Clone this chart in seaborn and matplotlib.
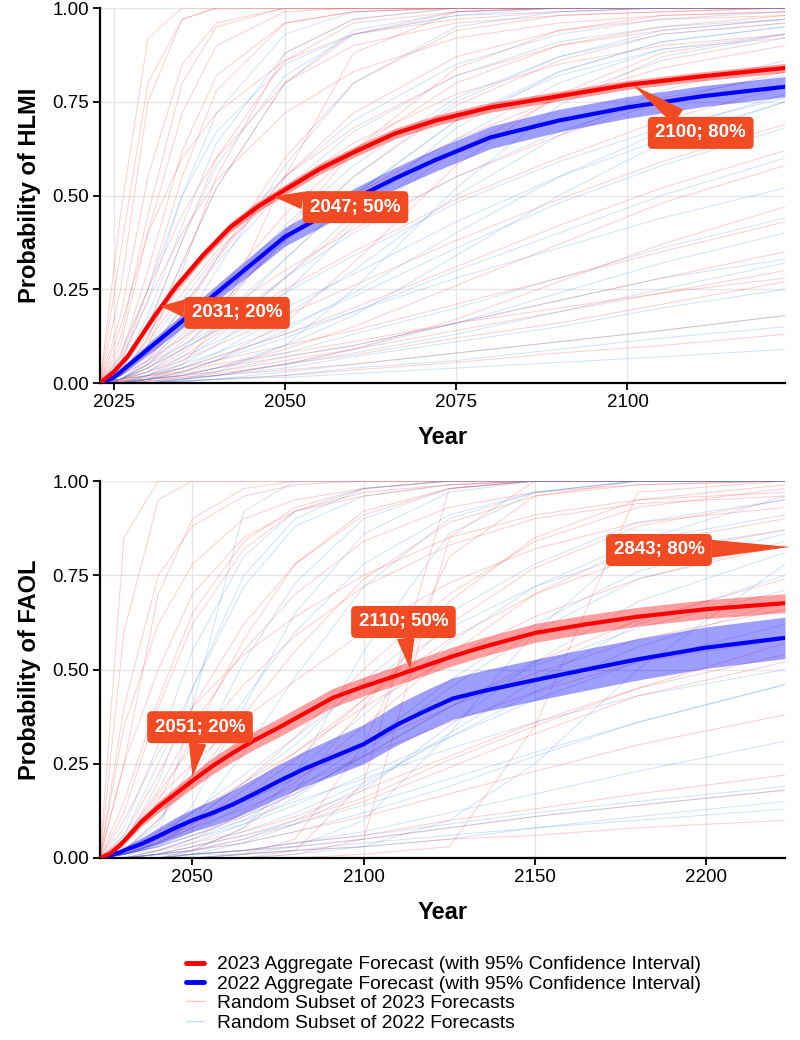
import matplotlib
matplotlib.use("Agg")
import matplotlib.pyplot as plt
from matplotlib.lines import Line2D
import seaborn as sns
import pandas as pd

# ---- aggregate forecasts ----
hlmi_years = [2023, 2025, 2027, 2029, 2031, 2034, 2038, 2042, 2046, 2050,
              2055, 2060, 2066, 2072, 2080, 2090, 2100, 2111, 2123]
hlmi_2023 = [0, 0.03, 0.07, 0.125, 0.18, 0.255, 0.34, 0.415, 0.47, 0.515,
             0.57, 0.615, 0.665, 0.70, 0.735, 0.765, 0.795, 0.818, 0.84]
hlmi_2023_half = [0, 0.004, 0.007, 0.009, 0.01, 0.011, 0.012, 0.013, 0.013, 0.014,
                  0.014, 0.014, 0.014, 0.014, 0.013, 0.013, 0.012, 0.012, 0.012]
hlmi_2022 = [0, 0.015, 0.045, 0.075, 0.105, 0.15, 0.21, 0.27, 0.33, 0.39,
             0.44, 0.49, 0.545, 0.595, 0.655, 0.70, 0.735, 0.765, 0.79]
hlmi_2022_half = [0, 0.006, 0.01, 0.013, 0.016, 0.018, 0.02, 0.022, 0.024, 0.025,
                  0.027, 0.028, 0.029, 0.03, 0.03, 0.03, 0.029, 0.028, 0.027]

faol_years = [2023, 2026, 2029, 2032, 2035, 2040, 2045, 2050, 2056, 2062, 2068, 2075,
              2083, 2091, 2100, 2110, 2118, 2126, 2135, 2150, 2165, 2180, 2200, 2223]
faol_2023 = [0, 0.012, 0.035, 0.065, 0.095, 0.135, 0.17, 0.205, 0.245, 0.28, 0.312, 0.345,
             0.385, 0.425, 0.455, 0.485, 0.51, 0.535, 0.56, 0.597, 0.62, 0.64, 0.66, 0.676]
faol_2023_half = [0, 0.003, 0.006, 0.009, 0.012, 0.015, 0.018, 0.02, 0.022, 0.023, 0.024, 0.025,
                  0.025, 0.025, 0.025, 0.025, 0.025, 0.025, 0.025, 0.025, 0.025, 0.025, 0.025, 0.025]
faol_2022 = [0, 0.007, 0.016, 0.027, 0.037, 0.058, 0.08, 0.10, 0.12, 0.143, 0.17, 0.203,
             0.238, 0.268, 0.302, 0.355, 0.39, 0.423, 0.443, 0.472, 0.50, 0.527, 0.558, 0.584]
faol_2022_half = [0, 0.004, 0.008, 0.012, 0.016, 0.022, 0.027, 0.03, 0.034, 0.038, 0.041, 0.044,
                  0.047, 0.05, 0.052, 0.054, 0.055, 0.055, 0.055, 0.055, 0.055, 0.055, 0.055, 0.055]

# ---- random subsets of individual forecasts (values at knot years) ----
hlmi_knots = [2023, 2026, 2030, 2035, 2040, 2050, 2060, 2075, 2090, 2105, 2123]
hlmi_red_subset = [
    [0, .25, .75, .97, 1, 1, 1, 1, 1, 1, 1],
    [0, .12, .45, .80, .95, 1, 1, 1, 1, 1, 1],
    [0, .05, .25, .55, .78, .96, .99, 1, 1, 1, 1],
    [0, .02, .12, .32, .52, .80, .93, .99, 1, 1, 1],
    [0, .08, .25, .45, .60, .80, .90, .96, .98, .99, 1],
    [0, .01, .06, .18, .33, .60, .80, .94, .98, .99, 1],
    [0, .04, .13, .26, .38, .55, .68, .82, .90, .94, .97],
    [0, .01, .05, .13, .24, .45, .62, .80, .90, .95, .98],
    [0, .02, .07, .15, .23, .38, .50, .65, .76, .84, .90],
    [0, .005, .02, .07, .13, .28, .43, .62, .76, .86, .92],
    [0, .01, .04, .09, .14, .25, .35, .49, .60, .70, .79],
    [0, .01, .03, .06, .10, .18, .26, .38, .49, .59, .69],
    [0, .005, .015, .04, .07, .13, .20, .31, .42, .52, .62],
    [0, .01, .02, .04, .06, .10, .14, .21, .28, .35, .43],
    [0, .005, .01, .025, .04, .07, .10, .16, .22, .28, .35],
    [0, 0, .005, .015, .025, .05, .075, .12, .16, .21, .27],
    [0, .005, .01, .015, .02, .035, .05, .08, .11, .14, .18],
    [0, 0, 0, .005, .01, .02, .035, .055, .08, .10, .13],
    [0, .15, .40, .60, .72, .86, .93, .97, .99, 1, 1],
    [0, .10, .40, .72, .90, .99, 1, 1, 1, 1, 1],
    [0, .45, .92, 1, 1, 1, 1, 1, 1, 1, 1],
    [0, .06, .22, .40, .54, .72, .83, .92, .96, .98, .99],
    [0, .02, .08, .20, .33, .55, .72, .87, .94, .97, .98],
    [0, .005, .03, .09, .18, .40, .62, .84, .94, .98, .99],
    [0, .03, .11, .24, .35, .52, .64, .77, .85, .90, .93],
    [0, 0, .01, .03, .06, .16, .32, .58, .77, .88, .93],
    [0, 0, .005, .01, .02, .05, .09, .17, .27, .37, .47],
    [0, .35, .80, .97, 1, 1, 1, 1, 1, 1, 1],
    [0, 0, .01, .05, .15, .55, .88, .99, 1, 1, 1],
    [0, .02, .10, .30, .55, .88, .97, 1, 1, 1, 1],
    [0, .18, .55, .85, .96, 1, 1, 1, 1, 1, 1],
    [0, .03, .15, .38, .60, .86, .96, .99, 1, 1, 1],
    [0, .01, .04, .11, .20, .38, .55, .74, .86, .93, .96],
    [0, .02, .06, .12, .18, .30, .41, .55, .66, .75, .83],
    [0, 0, .01, .02, .04, .09, .15, .26, .37, .48, .58],
    [0, .005, .01, .02, .03, .06, .09, .14, .19, .24, .30],
    [0, .07, .30, .62, .82, .96, .99, 1, 1, 1, 1],
    [0, .01, .02, .03, .05, .08, .11, .16, .20, .24, .28],
]
hlmi_blue_subset = [
    [0, .05, .22, .50, .72, .93, .99, 1, 1, 1, 1],
    [0, .02, .12, .32, .52, .80, .94, .99, 1, 1, 1],
    [0, .01, .05, .15, .30, .58, .80, .95, .99, 1, 1],
    [0, .01, .05, .12, .20, .38, .55, .75, .87, .94, .97],
    [0, 0, .02, .06, .12, .28, .45, .68, .83, .91, .95],
    [0, 0, .01, .04, .08, .18, .30, .50, .66, .78, .86],
    [0, .01, .03, .07, .11, .20, .29, .43, .55, .65, .75],
    [0, 0, .01, .03, .06, .12, .19, .30, .40, .50, .60],
    [0, 0, .01, .02, .04, .08, .13, .20, .28, .36, .44],
    [0, 0, .005, .01, .02, .05, .08, .13, .19, .25, .32],
    [0, 0, 0, .005, .01, .03, .05, .08, .11, .14, .18],
    [0, 0, 0, .005, .01, .015, .025, .04, .055, .07, .09],
    [0, .07, .25, .50, .67, .85, .93, .98, .99, 1, 1],
    [0, .02, .08, .20, .32, .52, .67, .82, .91, .95, .97],
    [0, .01, .04, .10, .17, .33, .50, .70, .83, .91, .95],
    [0, 0, .02, .05, .10, .24, .42, .65, .80, .89, .93],
    [0, .01, .05, .10, .15, .28, .40, .55, .67, .76, .82],
    [0, 0, 0, .01, .03, .10, .25, .52, .74, .87, .93],
    [0, .01, .03, .08, .15, .33, .50, .70, .82, .89, .92],
    [0, 0, .02, .05, .08, .15, .23, .36, .48, .58, .68],
    [0, .02, .06, .14, .23, .42, .58, .76, .87, .93, .96],
    [0, 0, 0, .01, .02, .05, .09, .16, .24, .32, .40],
    [0, .03, .15, .38, .58, .82, .93, .98, 1, 1, 1],
    [0, 0, .01, .02, .03, .07, .10, .16, .22, .28, .33],
    [0, .03, .10, .22, .34, .55, .70, .85, .93, .97, .99],
    [0, 0, .01, .03, .06, .14, .24, .40, .55, .67, .77],
    [0, .01, .02, .04, .07, .13, .19, .28, .36, .44, .52],
    [0, 0, 0, .01, .02, .04, .07, .11, .15, .20, .25],
    [0, .04, .18, .42, .64, .88, .97, 1, 1, 1, 1],
    [0, 0, .01, .02, .04, .10, .18, .34, .50, .64, .75],
    [0, .01, .04, .09, .14, .24, .34, .48, .59, .68, .76],
    [0, 0, 0, .005, .01, .02, .04, .06, .09, .12, .15],
]

faol_knots = [2023, 2030, 2040, 2050, 2065, 2080, 2100, 2125, 2150, 2180, 2223]
faol_red_subset = [
    [0, .85, 1, 1, 1, 1, 1, 1, 1, 1, 1],
    [0, .25, .70, .90, .98, 1, 1, 1, 1, 1, 1],
    [0, .15, .42, .65, .84, .93, .98, 1, 1, 1, 1],
    [0, .06, .22, .40, .62, .78, .91, .98, 1, 1, 1],
    [0, .10, .28, .40, .54, .64, .75, .85, .91, .95, .97],
    [0, .02, .10, .20, .38, .55, .74, .89, .96, .99, 1],
    [0, .05, .16, .25, .37, .47, .60, .73, .82, .89, .93],
    [0, .01, .05, .10, .20, .32, .50, .70, .84, .93, .98],
    [0, .02, .07, .12, .20, .28, .40, .53, .64, .74, .83],
    [0, .01, .03, .06, .11, .17, .27, .40, .52, .63, .74],
    [0, 0, .02, .04, .07, .11, .18, .27, .36, .45, .54],
    [0, 0, .01, .02, .04, .07, .11, .17, .23, .30, .38],
    [0, 0, 0, .01, .02, .04, .06, .10, .13, .17, .22],
    [0, 0, 0, 0, .01, .02, .03, .05, .06, .08, .10],
    [0, 0, 0, 0, 0, 0, .01, .03, .35, .97, 1],
    [0, 0, 0, 0, 0, .01, .05, .85, 1, 1, 1],
    [0, .25, .50, .70, .85, .92, .96, .99, 1, 1, 1],
    [0, .03, .15, .32, .58, .78, .92, .98, 1, 1, 1],
    [0, .01, .04, .08, .16, .26, .42, .62, .77, .88, .95],
    [0, .05, .17, .30, .46, .59, .72, .83, .90, .94, .96],
    [0, 0, .01, .03, .06, .10, .16, .26, .35, .45, .57],
    [0, .40, .75, .88, .96, .99, 1, 1, 1, 1, 1],
    [0, 0, 0, .02, .08, .18, .40, .68, .85, .95, .99],
    [0, .01, .04, .08, .13, .19, .27, .36, .44, .52, .58],
    [0, 0, .02, .05, .12, .20, .35, .54, .70, .83, .90],
    [0, .60, .95, 1, 1, 1, 1, 1, 1, 1, 1],
    [0, 0, 0, 0, 0, .02, .20, .98, 1, 1, 1],
    [0, .35, .62, .78, .90, .95, .98, 1, 1, 1, 1],
    [0, .05, .18, .35, .55, .70, .84, .93, .97, .99, 1],
    [0, .01, .04, .09, .18, .28, .42, .58, .70, .80, .87],
    [0, 0, .01, .02, .05, .09, .15, .24, .33, .43, .52],
    [0, .02, .05, .09, .15, .21, .30, .40, .49, .58, .66],
    [0, 0, 0, .01, .02, .03, .05, .08, .11, .14, .18],
    [0, .12, .40, .62, .82, .92, .97, .99, 1, 1, 1],
    [0, 0, 0, 0, .01, .05, .30, .80, .96, 1, 1],
]
faol_blue_subset = [
    [0, .04, .20, .45, .75, .90, .98, 1, 1, 1, 1],
    [0, .02, .09, .25, .52, .73, .90, .98, 1, 1, 1],
    [0, .01, .03, .10, .28, .48, .72, .90, .97, 1, 1],
    [0, .01, .04, .10, .20, .30, .47, .65, .78, .89, .95],
    [0, 0, .02, .05, .10, .18, .30, .47, .62, .76, .86],
    [0, 0, .01, .03, .07, .12, .20, .32, .44, .56, .68],
    [0, 0, .01, .02, .04, .07, .12, .19, .27, .36, .46],
    [0, 0, 0, .01, .02, .04, .07, .12, .17, .23, .31],
    [0, 0, 0, 0, .01, .02, .03, .05, .08, .11, .15],
    [0, .06, .25, .45, .72, .88, .96, .99, 1, 1, 1],
    [0, 0, 0, .02, .08, .22, .55, .86, .97, 1, 1],
    [0, .01, .03, .07, .14, .23, .38, .57, .72, .84, .91],
    [0, 0, 0, .01, .04, .09, .18, .35, .52, .68, .81],
    [0, .02, .06, .12, .22, .32, .46, .61, .72, .81, .87],
    [0, 0, .01, .03, .06, .09, .14, .21, .28, .36, .46],
    [0, 0, 0, .01, .01, .02, .04, .06, .08, .10, .13],
    [0, .01, .04, .14, .40, .65, .86, .97, 1, 1, 1],
    [0, 0, 0, 0, .01, .03, .10, .33, .60, .84, .96],
    [0, .01, .03, .06, .11, .17, .27, .40, .51, .61, .71],
    [0, 0, .01, .01, .02, .04, .06, .09, .12, .15, .19],
    [0, 0, .05, .40, .92, 1, 1, 1, 1, 1, 1],
    [0, .02, .10, .22, .42, .60, .78, .91, .97, 1, 1],
    [0, 0, .01, .04, .09, .16, .28, .45, .60, .74, .84],
    [0, .01, .02, .05, .09, .14, .22, .32, .42, .52, .62],
    [0, 0, 0, .01, .02, .03, .05, .08, .11, .14, .18],
    [0, .08, .30, .55, .80, .92, .98, 1, 1, 1, 1],
    [0, 0, .01, .02, .05, .10, .19, .33, .47, .62, .75],
    [0, 0, 0, 0, 0, .01, .03, .10, .25, .50, .78],
    [0, .01, .03, .06, .10, .15, .21, .29, .36, .43, .50],
]

# ---- callout labels: (text, point on curve, label centre) ----
hlmi_labels = ["2031; 20%", "2047; 50%", "2100; 80%"]
hlmi_label_tips = [(2031.8, 0.205), (2048.3, 0.497), (2100.8, 0.795)]
hlmi_label_boxes = [(2043.0, 0.187), (2060.3, 0.469), (2110.7, 0.667)]
faol_labels = ["2051; 20%", "2110; 50%", "2843; 80%"]
faol_label_tips = [(2050.0, 0.215), (2113.6, 0.50), (2224.5, 0.825)]
faol_label_boxes = [(2052.2, 0.347), (2111.6, 0.626), (2186.2, 0.817)]

RED = "#ff0000"
BLUE = "#0000ff"
THIN_RED = "#ff4040"
THIN_BLUE = "#4a90e8"
CALLOUT = "#f24a23"

sns.set_theme(style="whitegrid")
plt.rcParams["font.family"] = ["Liberation Sans", "DejaVu Sans"]
plt.rcParams["text.color"] = "black"
plt.rcParams["axes.labelcolor"] = "black"


def subset_frame(knots, curves):
    rows = []
    for i, vals in enumerate(curves):
        for yr, p in zip(knots, vals):
            rows.append({"id": i, "year": yr, "p": p})
    return pd.DataFrame(rows)


def draw_panel(ax, years, agg23, half23, agg22, half22, knots, red_sub, blue_sub,
               xlim, xticks, ylabel, labels, tips, boxes):
    red_df = subset_frame(knots, red_sub)
    blue_df = subset_frame(knots, blue_sub)
    sns.lineplot(data=red_df, x="year", y="p", units="id", estimator=None,
                 color=THIN_RED, lw=0.7, alpha=0.26, ax=ax, legend=False)
    sns.lineplot(data=blue_df, x="year", y="p", units="id", estimator=None,
                 color=THIN_BLUE, lw=0.7, alpha=0.26, ax=ax, legend=False)

    lo22 = [a - h for a, h in zip(agg22, half22)]
    hi22 = [a + h for a, h in zip(agg22, half22)]
    lo23 = [a - h for a, h in zip(agg23, half23)]
    hi23 = [a + h for a, h in zip(agg23, half23)]
    ax.fill_between(years, lo22, hi22, color=BLUE, alpha=0.38, lw=0, zorder=3)
    ax.fill_between(years, lo23, hi23, color=RED, alpha=0.38, lw=0, zorder=3)

    agg = pd.DataFrame({"year": years, "y23": agg23, "y22": agg22})
    sns.lineplot(data=agg, x="year", y="y22", color=BLUE, lw=3, ax=ax, zorder=4)
    sns.lineplot(data=agg, x="year", y="y23", color=RED, lw=3, ax=ax, zorder=4)

    for text, tip, box in zip(labels, tips, boxes):
        ax.annotate(text, xy=tip, xytext=box, textcoords="data",
                    ha="center", va="center", color="white",
                    fontsize=13.5, fontweight="bold", zorder=10,
                    annotation_clip=False,
                    bbox=dict(boxstyle="round,pad=0.4,rounding_size=0.25",
                              fc=CALLOUT, ec="none"),
                    arrowprops=dict(arrowstyle="wedge,tail_width=0.95,shrink_factor=0.5",
                                    fc=CALLOUT, ec="none", shrinkA=0, shrinkB=0))

    ax.set_xlim(*xlim)
    ax.set_ylim(0, 1)
    ax.set_xticks(xticks)
    ax.set_yticks([0, 0.25, 0.5, 0.75, 1.0])
    ax.set_yticklabels(["0.00", "0.25", "0.50", "0.75", "1.00"])
    ax.set_xlabel("Year", fontsize=17, fontweight="bold", labelpad=11)
    ax.set_ylabel(ylabel, fontsize=17, fontweight="bold", labelpad=8)
    ax.set_facecolor("white")
    ax.grid(True, color="#e6e6e6", lw=1)
    ax.set_axisbelow(True)
    for side in ["top", "right"]:
        ax.spines[side].set_visible(False)
    for side in ["left", "bottom"]:
        ax.spines[side].set_color("black")
        ax.spines[side].set_linewidth(1.6)
    ax.tick_params(axis="both", which="major", direction="out", length=5,
                   width=1.3, color="black", labelsize=13.5, labelcolor="black",
                   bottom=True, left=True, pad=3)


fig = plt.figure(figsize=(8, 10.4), dpi=100)
ax_top = fig.add_axes([0.125, 0.6317, 0.85625, 0.3606])
ax_bot = fig.add_axes([0.125, 0.175, 0.85625, 0.3625])

draw_panel(ax_top, hlmi_years, hlmi_2023, hlmi_2023_half, hlmi_2022, hlmi_2022_half,
           hlmi_knots, hlmi_red_subset, hlmi_blue_subset,
           (2023, 2123), [2025, 2050, 2075, 2100], "Probability of HLMI",
           hlmi_labels, hlmi_label_tips, hlmi_label_boxes)
draw_panel(ax_bot, faol_years, faol_2023, faol_2023_half, faol_2022, faol_2022_half,
           faol_knots, faol_red_subset, faol_blue_subset,
           (2023, 2223), [2050, 2100, 2150, 2200], "Probability of FAOL",
           faol_labels, faol_label_tips, faol_label_boxes)

handles = [
    Line2D([], [], color=RED, lw=3.5),
    Line2D([], [], color=BLUE, lw=3.5),
    Line2D([], [], color=THIN_RED, lw=1, alpha=0.3),
    Line2D([], [], color=THIN_BLUE, lw=1, alpha=0.3),
]
legend_labels = [
    "2023 Aggregate Forecast (with 95% Confidence Interval)",
    "2022 Aggregate Forecast (with 95% Confidence Interval)",
    "Random Subset of 2023 Forecasts",
    "Random Subset of 2022 Forecasts",
]
fig.legend(handles, legend_labels, loc="upper left", bbox_to_anchor=(0.233, 0.081),
           frameon=False, fontsize=13.9, handlelength=0.9, handletextpad=0.7,
           labelspacing=0.1, borderpad=0, borderaxespad=0)

fig.savefig("out.png", dpi=100, facecolor="white")
